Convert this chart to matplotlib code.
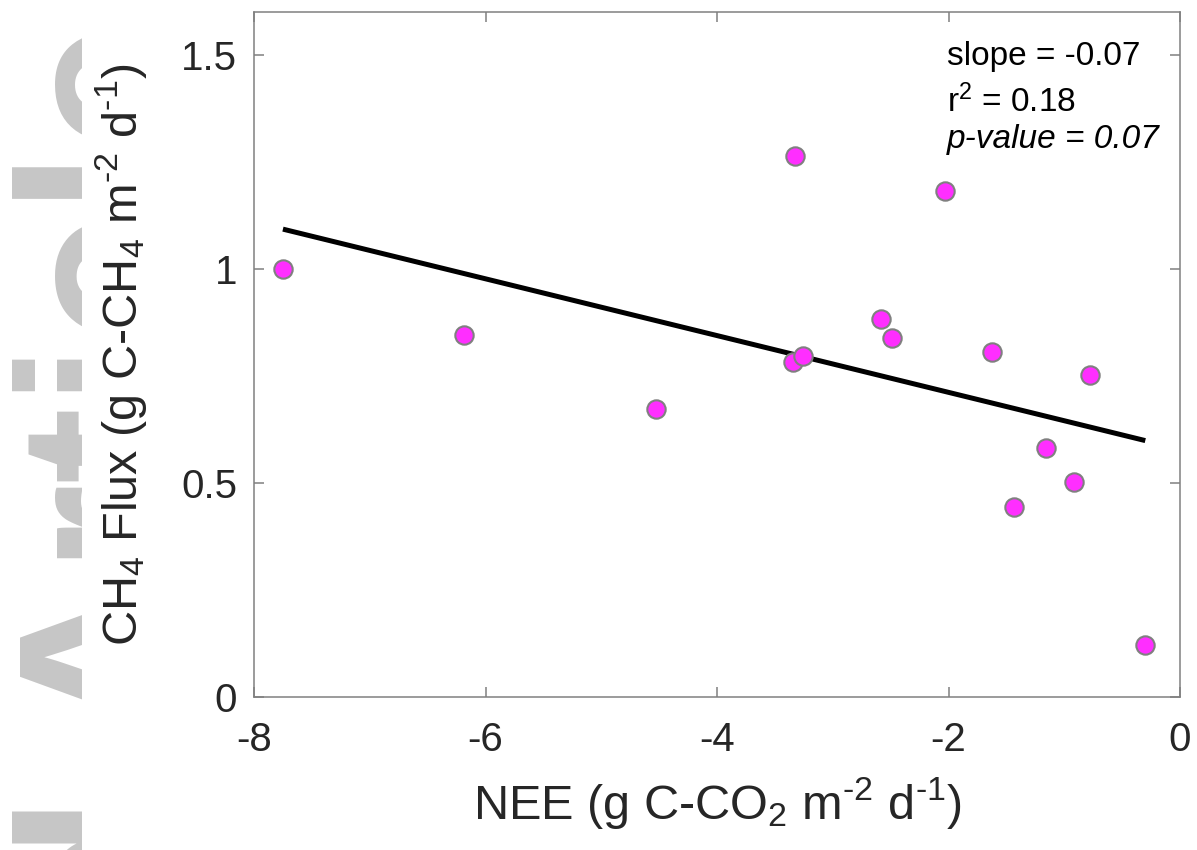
import matplotlib
matplotlib.use("Agg")
import matplotlib.pyplot as plt
from matplotlib.patches import Rectangle
import numpy as np

# ---- data ----
nee = [-7.75, -6.19, -4.53, -3.33, -3.34, -3.26, -2.58, -2.49, -2.03,
       -1.62, -1.16, -0.92, -0.78, -1.43, -0.30]
ch4 = [1.000, 0.846, 0.673, 1.264, 0.783, 0.797, 0.883, 0.839, 1.182,
       0.806, 0.582, 0.502, 0.752, 0.444, 0.121]
fit_slope = -0.0663
fit_intercept = 0.579
HY = "\u2010"
stats_lines = ["slope = -0.07", "r$^{2}$ = 0.18", "p-value = 0.07"]
xticks = [-8, -6, -4, -2, 0]
yticks = [0, 0.5, 1, 1.5]
ytick_labels = ["0", "0.5", "1", "1.5"]

plt.rcParams['font.family'] = ['Liberation Sans', 'DejaVu Sans']
plt.rcParams['mathtext.fontset'] = 'custom'
plt.rcParams['mathtext.rm'] = 'Liberation Sans'
plt.rcParams['mathtext.it'] = 'Liberation Sans:italic'
plt.rcParams['mathtext.bf'] = 'Liberation Sans:bold'

W, H = 1197, 850
fig = plt.figure(figsize=(W / 100, H / 100), dpi=100)

# watermark (partly hidden behind white page)
fig.text(180 / W, 1 - 22 / H, "Accepted Article", rotation=90,
         rotation_mode='anchor', ha='right', va='baseline',
         fontsize=166, fontweight='bold', color='#c6c6c6', zorder=-3)
fig.patches.append(Rectangle((82 / W, 0), 1, 1, transform=fig.transFigure,
                             facecolor='white', edgecolor='none', zorder=-2))

ax = fig.add_axes([254 / W, 1 - 697 / H, (1180 - 254) / W, (697 - 12) / H])
ax.set_facecolor('none')

xs = np.array([min(nee), max(nee)])
ax.plot(xs, fit_intercept + fit_slope * xs, color='black', lw=3.6,
        solid_capstyle='butt', zorder=2)
ax.scatter(nee, ch4, s=175, facecolor='#ff2eff', edgecolor='#808080',
           linewidth=1.5, zorder=3)

ax.set_xlim(-8, 0)
ax.set_ylim(0, 1.6)
ax.set_xticks(xticks)
ax.set_xticklabels([str(t) for t in xticks])
ax.set_yticks(yticks)
ax.set_yticklabels(ytick_labels)

for s in ax.spines.values():
    s.set_color('#808080')
    s.set_linewidth(1.1)
ax.tick_params(direction='in', length=7, width=1.1, color='#808080',
               top=True, right=True, labelsize=29, labelcolor='#262626')
ax.tick_params(axis='x', pad=17)
ax.tick_params(axis='y', pad=12)

ax.set_xlabel("NEE (g C-CO$_{2}$ m$^{" + HY + "2}$ d$^{" + HY + "1}$)",
              fontsize=35, color='#262626', labelpad=12)
ax.set_ylabel("CH$_{4}$ Flux (g C-CH$_{4}$ m$^{" + HY + "2}$ d$^{" + HY + "1}$)",
              fontsize=35, color='#262626', labelpad=23)

ypos = [0.9226, 0.854, 0.801]
for i, (txt, yp) in enumerate(zip(stats_lines, ypos)):
    ax.text(0.748, yp, txt, transform=ax.transAxes, fontsize=24,
            color='black', va='baseline', ha='left',
            style='italic' if i == 2 else 'normal')

fig.savefig("out.png", dpi=100)
